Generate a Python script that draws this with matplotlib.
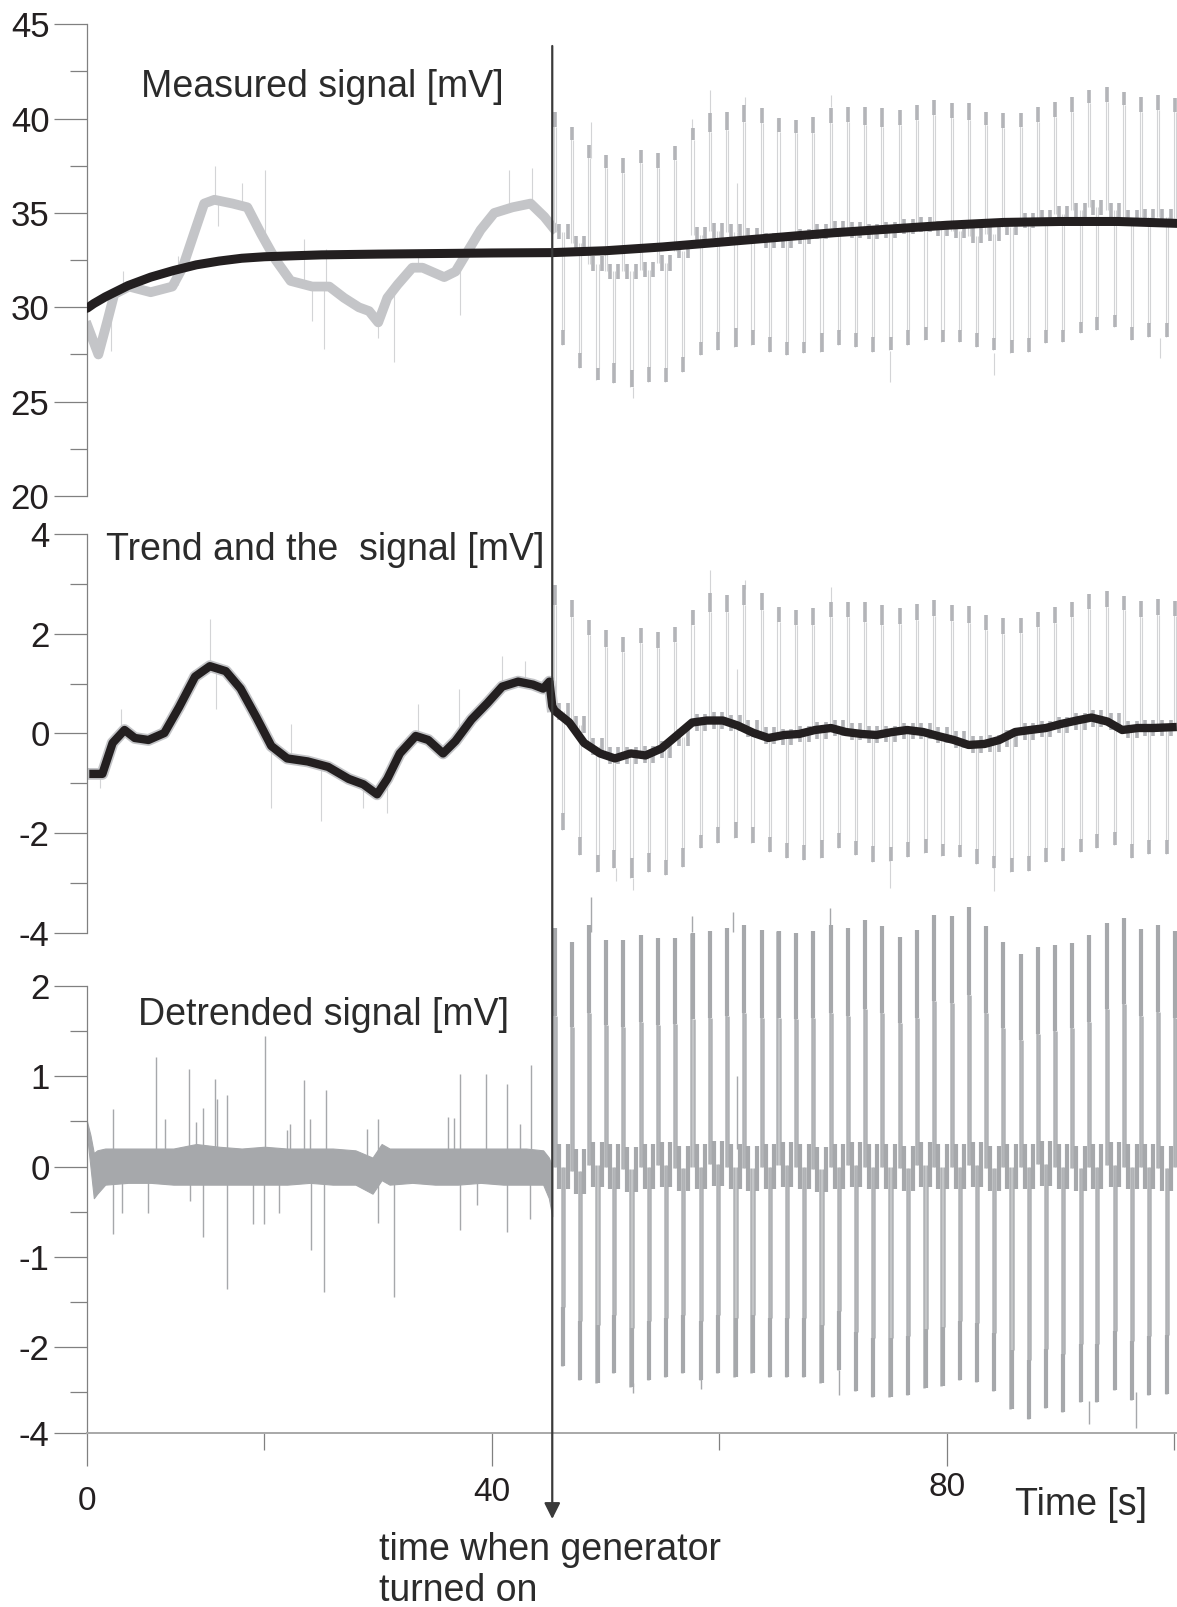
import numpy as np
import matplotlib
matplotlib.use('Agg')
from matplotlib import pyplot as plt

plt.rcParams['font.family'] = ['Liberation Sans', 'DejaVu Sans']
plt.rcParams['axes.unicode_minus'] = False

# time axis: the left spine is labelled "0" although it sits at ~4.4 s of the 20 s grid
T_LEFT = 4.4
T_RIGHT = 100.22
T_GEN = 45.3  # generator switched on

# ---- panel 1: measured signal [mV] ----
t_fit1 = [4.4, 5, 6, 8, 10, 12, 14, 16, 18, 20, 25, 30, 35, 40, 45.3, 50, 55, 60,
          65, 70, 75, 80, 85, 90, 95, 100.2]
v_fit1 = [29.95, 30.2, 30.55, 31.15, 31.6, 31.95, 32.25, 32.45, 32.6, 32.68, 32.78,
          32.82, 32.85, 32.88, 32.9, 33.0, 33.2, 33.45, 33.7, 33.95, 34.15, 34.35,
          34.5, 34.55, 34.55, 34.45]

t_sig1 = [4.46, 5.4, 6.2, 6.8, 8.1, 10.0, 11.9, 12.8, 13.8, 14.7, 15.6, 17.2, 18.5,
          19.7, 21.0, 22.3, 24.2, 25.7, 27.0, 28.3, 29.2, 30.0, 30.8, 31.7, 33.0,
          33.9, 35.8, 36.8, 37.7, 39.0, 40.2, 41.8, 43.4, 44.6, 45.4]
v_sig1 = [29.0, 27.5, 29.3, 30.7, 31.1, 30.8, 31.1, 32.1, 33.9, 35.5, 35.7, 35.5,
          35.3, 33.9, 32.5, 31.4, 31.1, 31.1, 30.5, 30.0, 29.8, 29.2, 30.5, 31.2,
          32.1, 32.1, 31.6, 31.9, 32.8, 34.1, 35.0, 35.3, 35.5, 34.8, 34.2]

# spikes: (time, from, to)
spikes1 = [(6.5, 29.5, 27.7), (7.6, 30.9, 31.9), (12.4, 31.2, 32.7), (15.65, 35.5, 37.5),
           (15.9, 35.5, 34.3), (18.0, 35.3, 36.6), (20.06, 33.9, 37.3), (23.5, 31.3, 33.6),
           (24.2, 31.1, 29.3), (25.26, 31.1, 27.8), (25.4, 31.1, 33.1), (30.0, 29.3, 28.4),
           (31.4, 31.0, 27.1), (33.5, 32.1, 33.0), (37.2, 32.0, 29.6), (41.5, 35.2, 37.3),
           (43.5, 35.5, 37.4),
           (48.7, 37.9, 39.84), (57.6, 38.9, 40.0), (59.2, 40.3, 41.5), (62.2, 40.7, 41.16),
           (69.8, 40.6, 41.25), (52.4, 25.8, 25.2), (75.0, 27.7, 26.06), (84.1, 27.6, 26.4),
           (98.7, 28.4, 27.3), (61.5, 34.0, 36.6)]

# generator pulses (start times)
pulse_t = [45.54, 47.01, 48.55, 50.02, 51.54, 53.07, 54.57, 56.09, 57.64, 59.16,
           60.69, 62.18, 63.71, 65.20, 66.73, 68.25, 69.78, 71.27, 72.79, 74.31,
           75.87, 77.39, 78.88, 80.41, 81.91, 83.43, 84.95, 86.48, 87.97, 89.49,
           91.02, 92.48, 94.04, 95.56, 97.05, 98.58, 100.04]

hi1_top = [40.37, 39.57, 38.60, 38.07, 37.90, 38.34, 38.16, 38.55, 39.49, 40.28, 40.37,
           40.72, 40.55, 40.02, 39.93, 40.10, 40.55, 40.63, 40.63, 40.55, 40.46, 40.72,
           40.99, 40.81, 40.81, 40.37, 40.28, 40.28, 40.63, 40.90, 41.16, 41.52, 41.69,
           41.43, 41.16, 41.25, 41.08]
hi1_bot = [39.57, 38.87, 37.90, 37.37, 37.10, 37.63, 37.37, 37.81, 38.87, 39.31, 39.40,
           39.84, 39.75, 39.31, 39.22, 39.22, 39.75, 39.84, 39.66, 39.57, 39.66, 39.93,
           40.19, 40.02, 39.93, 39.66, 39.49, 39.57, 39.84, 40.10, 40.37, 40.81, 40.90,
           40.72, 40.37, 40.46, 40.37]
lo1_top = [28.80, 27.56, 26.77, 27.04, 26.68, 26.86, 26.77, 27.38, 28.18, 28.71, 28.89,
           28.80, 28.45, 28.18, 28.18, 28.62, 28.80, 28.62, 28.45, 28.45, 28.80, 28.98,
           28.80, 28.80, 28.62, 28.36, 28.27, 28.36, 28.80, 28.80, 29.24, 29.50, 29.59,
           28.98, 29.16, 29.16, 29.0]
lo1_bot = [28.01, 26.77, 26.15, 25.98, 25.80, 26.06, 26.06, 26.59, 27.47, 27.74, 27.91,
           28.01, 27.65, 27.47, 27.56, 27.65, 28.01, 27.91, 27.65, 27.74, 28.01, 28.27,
           28.18, 28.18, 27.91, 27.74, 27.56, 27.65, 28.09, 28.18, 28.62, 28.80, 28.98,
           28.27, 28.45, 28.45, 28.3]
mid1 = [34.0, 33.4, 32.3, 31.9, 31.9, 32.0, 32.35, 33.0, 33.85, 34.05, 34.0, 33.8, 33.55,
        33.55, 33.75, 34.0, 34.2, 34.1, 34.0, 34.1, 34.3, 34.4, 34.2, 34.05, 33.8, 33.9,
        34.25, 34.6, 34.75, 34.95, 35.15, 35.3, 35.15, 34.75, 34.8, 34.8, 34.75]

# ---- panel 2: trend and the signal [mV] ----
t_tr2 = [4.6, 5.75, 6.65, 7.7, 8.6, 9.8, 11.2, 12.5, 13.9, 15.2, 16.6, 17.9, 19.3, 20.6,
         22.0, 23.8, 25.6, 27.4, 28.7, 29.9, 30.8, 31.9, 33.3, 34.4, 35.7, 36.8, 38.2,
         39.6, 40.9, 42.3, 43.6, 44.5, 45.05, 45.3, 45.5, 46.8, 48.1, 49.5, 50.8, 52.2,
         53.5, 54.9, 56.2, 57.6, 58.9, 60.3, 61.6, 63.0, 64.3, 65.7, 67.0, 68.4, 69.8,
         71.1, 72.5, 73.8, 75.2, 76.5, 77.9, 79.2, 80.6, 81.9, 83.3, 84.6, 86.0, 87.3,
         88.7, 90.0, 91.4, 92.7, 94.1, 95.4, 96.8, 98.1, 100.2]
v_tr2 = [-0.81, -0.81, -0.19, 0.07, -0.09, -0.13, 0.01, 0.53, 1.14, 1.35, 1.25, 0.90,
         0.32, -0.25, -0.50, -0.56, -0.67, -0.91, -1.02, -1.22, -0.91, -0.40, -0.05,
         -0.13, -0.40, -0.15, 0.28, 0.61, 0.94, 1.04, 0.98, 0.90, 1.04, 0.55, 0.46, 0.22,
         -0.19, -0.40, -0.50, -0.40, -0.44, -0.30, -0.05, 0.22, 0.26, 0.26, 0.16, 0.01,
         -0.09, -0.03, -0.01, 0.07, 0.11, 0.03, -0.01, -0.03, 0.03, 0.07, 0.03, -0.05,
         -0.13, -0.23, -0.21, -0.13, 0.03, 0.07, 0.11, 0.19, 0.26, 0.32, 0.24, 0.07,
         0.11, 0.11, 0.13]

spikes2 = [(5.5, -0.8, -1.1), (7.4, 0.05, 0.5), (15.2, 1.3, 2.3), (15.7, 1.3, 0.5),
           (20.6, -0.25, -1.5), (22.3, -0.5, 0.2), (24.95, -0.6, -1.75), (28.7, -1.0, -1.5),
           (30.8, -0.9, -1.6), (33.5, -0.05, 0.6), (37.1, -0.15, 0.9), (40.9, 0.94, 1.55),
           (42.9, 1.0, 1.45),
           (59.2, 2.8, 3.28), (62.2, 2.9, 3.08), (69.8, 2.6, 2.94), (52.4, -2.9, -3.13),
           (50.9, -2.7, -2.95), (75.0, -2.5, -3.1), (84.1, -2.6, -3.15), (61.5, 0.2, 1.3)]

hi2_top = [2.98, 2.68, 2.28, 2.08, 1.94, 2.11, 2.04, 2.14, 2.48, 2.81, 2.78, 2.98, 2.81,
           2.54, 2.48, 2.51, 2.64, 2.64, 2.63, 2.57, 2.51, 2.59, 2.68, 2.58, 2.56, 2.37,
           2.31, 2.31, 2.44, 2.54, 2.64, 2.79, 2.86, 2.75, 2.66, 2.70, 2.65]
hi2_bot = [2.58, 2.34, 1.98, 1.74, 1.64, 1.81, 1.71, 1.84, 2.18, 2.44, 2.44, 2.58, 2.48,
           2.24, 2.18, 2.18, 2.34, 2.34, 2.24, 2.18, 2.19, 2.27, 2.36, 2.26, 2.21, 2.08,
           2.00, 2.02, 2.13, 2.22, 2.33, 2.50, 2.54, 2.47, 2.34, 2.38, 2.36]
lo2_top = [-1.60, -2.07, -2.43, -2.33, -2.50, -2.40, -2.53, -2.30, -2.03, -1.87, -1.77,
           -1.87, -2.07, -2.20, -2.23, -2.13, -2.00, -2.15, -2.25, -2.28, -2.17, -2.12,
           -2.22, -2.23, -2.32, -2.45, -2.49, -2.46, -2.29, -2.30, -2.12, -2.02, -1.98,
           -2.22, -2.14, -2.13, -2.15]
lo2_bot = [-1.93, -2.43, -2.77, -2.70, -2.90, -2.77, -2.83, -2.67, -2.30, -2.20, -2.10,
           -2.20, -2.37, -2.50, -2.53, -2.50, -2.30, -2.44, -2.57, -2.56, -2.48, -2.40,
           -2.46, -2.48, -2.61, -2.70, -2.78, -2.75, -2.58, -2.55, -2.37, -2.30, -2.23,
           -2.50, -2.42, -2.41, -2.42]
mid2 = [0.45, 0.18, -0.26, -0.44, -0.45, -0.43, -0.32, -0.08, 0.22, 0.26, 0.21, 0.10,
        -0.04, -0.07, -0.01, 0.06, 0.11, 0.04, -0.02, -0.01, 0.05, 0.05, -0.03, -0.12,
        -0.23, -0.21, -0.10, 0.04, 0.09, 0.17, 0.24, 0.31, 0.24, 0.08, 0.11, 0.11, 0.12]

# ---- panel 3: detrended signal [mV] ----
t_band3 = [4.4, 4.7, 5.0, 5.3, 6, 8, 10, 12, 14, 16, 18, 20, 22, 24, 26, 28, 29.5, 30.3,
           31, 33, 35, 37, 39, 41, 43, 44.5, 45.0, 45.3]
hi_band3 = [0.5, 0.35, 0.15, 0.18, 0.2, 0.2, 0.2, 0.2, 0.25, 0.22, 0.2, 0.22, 0.2, 0.2,
            0.2, 0.18, 0.1, 0.25, 0.2, 0.2, 0.2, 0.2, 0.2, 0.2, 0.2, 0.18, 0.1, 0.0]
lo_band3 = [0.35, 0.0, -0.35, -0.3, -0.2, -0.18, -0.18, -0.2, -0.2, -0.2, -0.2, -0.2,
            -0.2, -0.18, -0.2, -0.2, -0.3, -0.15, -0.2, -0.18, -0.2, -0.2, -0.18, -0.2,
            -0.2, -0.2, -0.35, -0.55]

spikes3 = [(6.67, 0, 0.64), (10.45, 0, 1.21), (11.3, 0, 0.53), (13.38, 0, 1.08),
           (13.98, 0, 0.49), (14.64, 0, 0.65), (15.65, 0, 0.97), (15.81, 0, 0.75),
           (16.75, 0, 0.79), (20.06, 0, 1.45), (21.95, 0, 0.40), (22.27, 0, 0.47),
           (23.46, 0, 0.96), (24.0, 0, 0.53), (25.42, 0, 0.85), (29.04, 0, 0.42),
           (29.99, 0, 0.53), (36.13, 0, 0.55), (36.7, 0, 0.54), (37.17, 0, 1.02),
           (39.47, 0, 1.03), (41.33, 0, 0.92), (42.43, 0, 0.47), (43.44, 0, 1.13),
           (6.67, 0, -0.75), (7.52, 0, -0.51), (9.73, 0, -0.51), (13.44, 0, -0.38),
           (14.64, 0, -0.78), (16.69, 0, -1.36), (18.96, 0, -0.64), (20.0, 0, -0.64),
           (21.32, 0, -0.51), (24.09, 0, -0.92), (25.2, 0, -1.39), (29.99, 0, -0.62),
           (31.4, 0, -1.44), (37.17, 0, -0.70), (38.65, 0, -0.42), (41.36, 0, -0.72),
           (43.38, 0, -0.58),
           (48.68, 2.6, 2.98), (57.6, 2.6, 2.77), (61.2, 2.6, 2.82), (69.7, 2.6, 2.86),
           (52.4, -2.4, -2.51), (58.4, -2.3, -2.46), (70.5, -2.25, -2.53),
           (92.5, -2.6, -2.85), (96.6, -2.5, -2.9), (61.5, 0.2, 1.0)]

hi3_top = [2.64, 2.49, 2.68, 2.51, 2.51, 2.57, 2.53, 2.53, 2.59, 2.61, 2.64, 2.68, 2.62,
           2.61, 2.59, 2.61, 2.68, 2.64, 2.73, 2.66, 2.54, 2.62, 2.79, 2.78, 2.87, 2.66,
           2.49, 2.35, 2.43, 2.45, 2.48, 2.56, 2.70, 2.75, 2.63, 2.67, 2.61]
hi3_bot = [1.67, 1.55, 1.70, 1.57, 1.55, 1.60, 1.57, 1.58, 1.63, 1.65, 1.67, 1.70, 1.65,
           1.65, 1.63, 1.65, 1.70, 1.67, 1.75, 1.70, 1.59, 1.65, 1.83, 1.81, 1.90, 1.70,
           1.53, 1.40, 1.47, 1.50, 1.53, 1.60, 1.75, 1.80, 1.67, 1.71, 1.65]
lo3_top = [-1.56, -1.71, -1.75, -1.64, -1.79, -1.71, -1.68, -1.64, -1.71, -1.64, -1.68,
           -1.64, -1.68, -1.68, -1.68, -1.75, -1.60, -1.83, -1.90, -1.90, -1.88, -1.80,
           -1.78, -1.71, -1.73, -1.84, -2.03, -2.14, -2.02, -2.07, -1.96, -1.96, -1.82,
           -1.93, -1.88, -1.87, -1.89]
lo3_bot = [-2.21, -2.36, -2.40, -2.29, -2.44, -2.36, -2.33, -2.29, -2.36, -2.29, -2.33,
           -2.29, -2.33, -2.33, -2.33, -2.40, -2.25, -2.48, -2.55, -2.55, -2.53, -2.45,
           -2.43, -2.36, -2.38, -2.49, -2.68, -2.79, -2.67, -2.72, -2.61, -2.61, -2.47,
           -2.58, -2.53, -2.52, -2.54]
mid3 = [0.0, -0.05, 0.02, 0.0, -0.03, 0.0, 0.02, -0.02, 0.0, 0.03, 0.0, -0.02, 0.0, 0.02,
        0.0, -0.03, 0.0, 0.02, 0.0, 0.0, -0.02, 0.02, 0.0, 0.0, 0.02, -0.02, 0.0, 0.0,
        0.03, 0.0, -0.02, 0.0, 0.02, 0.0, 0.0, -0.02, 0.0]

# colours
BLACK = '#231f20'
TEXT = '#2b2b2b'
AXIS = '#808080'
G_BAND = '#c4c5c8'
G_BAR = '#b3b4b8'
G_THIN = '#d3d4d6'
G3 = '#a6a8ab'
G3_THIN = '#b0b2b5'

# offsets inside one generator period [s]
DX = 0.1
LOW_SHIFT = 0.73
STUB_A = 0.36
STUB_B = 1.1


def style_axis(ax, ylim, major, minor, labels=None):
    ax.set_xlim(T_LEFT, T_RIGHT)
    ax.set_ylim(*ylim)
    ax.patch.set_visible(False)
    for s in ['top', 'right', 'bottom']:
        ax.spines[s].set_visible(False)
    ax.spines['left'].set_color(AXIS)
    ax.spines['left'].set_linewidth(0.9)
    ax.set_yticks(major)
    ax.set_yticks(minor, minor=True)
    if labels is not None:
        ax.set_yticklabels(labels)
    ax.tick_params(axis='y', which='major', length=24, width=0.9, color=AXIS, pad=3,
                   labelsize=25, labelcolor=BLACK)
    ax.tick_params(axis='y', which='minor', length=12, width=0.9, color=AXIS)
    ax.set_xticks([])


def draw_pulses(ax, hi_top, hi_bot, lo_top, lo_bot, mid, stub, thin_c, thin_lw, bar_c,
                bar_lw, clip=True):
    t = np.array(pulse_t)
    tl = t + LOW_SHIFT
    kw = dict(clip_on=clip, zorder=2)
    ax.vlines(t - DX, mid, hi_top, colors=thin_c, lw=thin_lw, **kw)
    ax.vlines(t + DX, mid, hi_bot, colors=thin_c, lw=thin_lw, **kw)
    ax.vlines(tl - DX, mid, lo_bot, colors=thin_c, lw=thin_lw, **kw)
    ax.vlines(tl + DX, mid, lo_top, colors=thin_c, lw=thin_lw, **kw)
    ax.vlines(t, hi_bot, hi_top, colors=bar_c, lw=bar_lw, **kw)
    ax.vlines(tl, lo_bot, lo_top, colors=bar_c, lw=bar_lw, **kw)
    m = np.array(mid)
    ax.vlines(t + STUB_A, m - stub, m + stub, colors=bar_c, lw=bar_lw, **kw)
    ax.vlines(t + STUB_B, m - stub, m + stub, colors=bar_c, lw=bar_lw, **kw)


def draw_spikes(ax, spikes, color, lw, clip=True):
    ts = [s[0] for s in spikes]
    ax.vlines(ts, [s[1] for s in spikes], [s[2] for s in spikes], colors=color, lw=lw,
              clip_on=clip, zorder=2)


fig = plt.figure(figsize=(11.77, 16.07), dpi=100)
left = 87 / 1177
width = 1 - left
ax1 = fig.add_axes([left, 0.69135, width, 0.29353])
ax2 = fig.add_axes([left, 0.41942, width, 0.24829])
ax3 = fig.add_axes([left, 0.10828, width, 0.27816])

# panel 1
style_axis(ax1, (20, 45), [20, 25, 30, 35, 40, 45], [22.5, 27.5, 32.5, 37.5, 42.5])
draw_spikes(ax1, spikes1, G_THIN, 0.8)
ax1.plot(t_sig1, v_sig1, color=G_BAND, lw=7, solid_joinstyle='round', zorder=2)
draw_pulses(ax1, hi1_top, hi1_bot, lo1_top, lo1_bot, mid1, 0.4, G_THIN, 0.8, G_BAR, 2.6)
ax1.plot(t_fit1, v_fit1, color=BLACK, lw=6.5, solid_capstyle='round', zorder=4)

# panel 2
style_axis(ax2, (-4, 4), [-4, -2, 0, 2, 4], [-3, -1, 1, 3])
draw_spikes(ax2, spikes2, G_THIN, 0.8)
pre = [i for i, t in enumerate(t_tr2) if t <= T_GEN]
ax2.plot([t_tr2[i] for i in pre], [v_tr2[i] for i in pre], color=G_BAND, lw=8.5,
         solid_joinstyle='round', zorder=2)
draw_pulses(ax2, hi2_top, hi2_bot, lo2_top, lo2_bot, mid2, 0.17, G_THIN, 0.8, G_BAR, 2.6)
ax2.plot(t_tr2, v_tr2, color=BLACK, lw=6, solid_capstyle='butt', zorder=4)

# panel 3 ("-4" label sits on the bottom axis line)
style_axis(ax3, (-2.95, 2), [-2.95, -2, -1, 0, 1, 2], [-2.5, -1.5, -0.5, 0.5, 1.5],
           labels=['-4', '-2', '-1', '0', '1', '2'])
ax3.fill_between(t_band3, lo_band3, hi_band3, color=G3, lw=0.8, edgecolor=G3, zorder=2)
draw_spikes(ax3, spikes3, G3, 1.0, clip=False)
draw_pulses(ax3, hi3_top, hi3_bot, lo3_top, lo3_bot, mid3, 0.25, G3_THIN, 1.8, G3, 3.0,
            clip=False)

ax3.spines['bottom'].set_visible(True)
ax3.spines['bottom'].set_color('#a8a8a8')
ax3.spines['bottom'].set_linewidth(1.4)
ax3.set_xticks([T_LEFT, 40, 80])
ax3.set_xticklabels(['0', '40', '80'])
ax3.set_xticks([20, 60, 100], minor=True)
ax3.tick_params(axis='x', which='major', length=24, width=0.9, color=AXIS, pad=8,
                labelsize=24, labelcolor=BLACK)
ax3.tick_params(axis='x', which='minor', length=12, width=0.9, color=AXIS)
xl = ax3.get_xticklabels()
xl[0].set_y(-0.02)
xl[2].set_y(0.013)

# generator marker
ax3.annotate('', xy=(T_GEN, 1 - 1519 / 1607), xytext=(T_GEN, 1 - 46 / 1607),
             xycoords=('data', 'figure fraction'), textcoords=('data', 'figure fraction'),
             arrowprops=dict(arrowstyle='-|>', lw=1.6, color='#3a3a3a', mutation_scale=24,
                             shrinkA=0, shrinkB=0),
             annotation_clip=False, zorder=6)

# labels
fig.text(141 / 1177, 1 - 87 / 1607, 'Measured signal [mV]', fontsize=27, color=TEXT,
         va='center')
fig.text(106 / 1177, 1 - 550 / 1607, 'Trend and the  signal [mV]', fontsize=27,
         color=TEXT, va='center')
fig.text(138 / 1177, 1 - 1015 / 1607, 'Detrended signal [mV]', fontsize=27, color=TEXT,
         va='center')
fig.text(1015 / 1177, 1 - 1505 / 1607, 'Time [s]', fontsize=27, color=TEXT, va='center')
fig.text(379 / 1177, 1 - 1550 / 1607, 'time when generator', fontsize=27, color=TEXT,
         va='center')
fig.text(379 / 1177, 1 - 1591 / 1607, 'turned on', fontsize=27, color=TEXT, va='center')

plt.savefig('out.png', dpi=100)
